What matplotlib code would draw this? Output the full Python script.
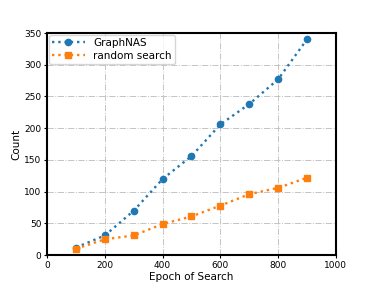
import matplotlib.pyplot as plt

epochs = [100, 200, 300, 400, 500, 600, 700, 800, 900]
graphnas = [12, 31, 70, 120, 156, 206, 238, 277, 340]
random_search = [10, 25, 31, 49, 61, 78, 96, 106, 122]

fig = plt.figure(figsize=(3.74, 2.87), dpi=100)
ax = fig.add_axes([0.126, 0.111, 0.772, 0.774])

ax.plot(epochs, graphnas, linestyle=':', marker='o', markersize=4.5, linewidth=1.7,
        color='#1f77b4', label='GraphNAS')
ax.plot(epochs, random_search, linestyle=':', marker='s', markersize=4.5, linewidth=1.7,
        color='#ff7f0e', label='random search')

ax.set_xlim(0, 1000)
ax.set_ylim(0, 350)
ax.set_xlabel('Epoch of Search', fontsize=7.5, labelpad=2)
ax.set_ylabel('Count', fontsize=7.5, labelpad=2)
ax.tick_params(labelsize=6.5, length=2, width=0.8, pad=2)
ax.grid(True, linestyle='-.', color='#c4c4c4', linewidth=0.7)
for s in ax.spines.values():
    s.set_linewidth(1.5)

ax.legend(loc='upper left', fontsize=7.5, borderaxespad=0.15, handlelength=3.2,
          labelspacing=0.3, borderpad=0.3)

fig.savefig('out.png', dpi=100)
